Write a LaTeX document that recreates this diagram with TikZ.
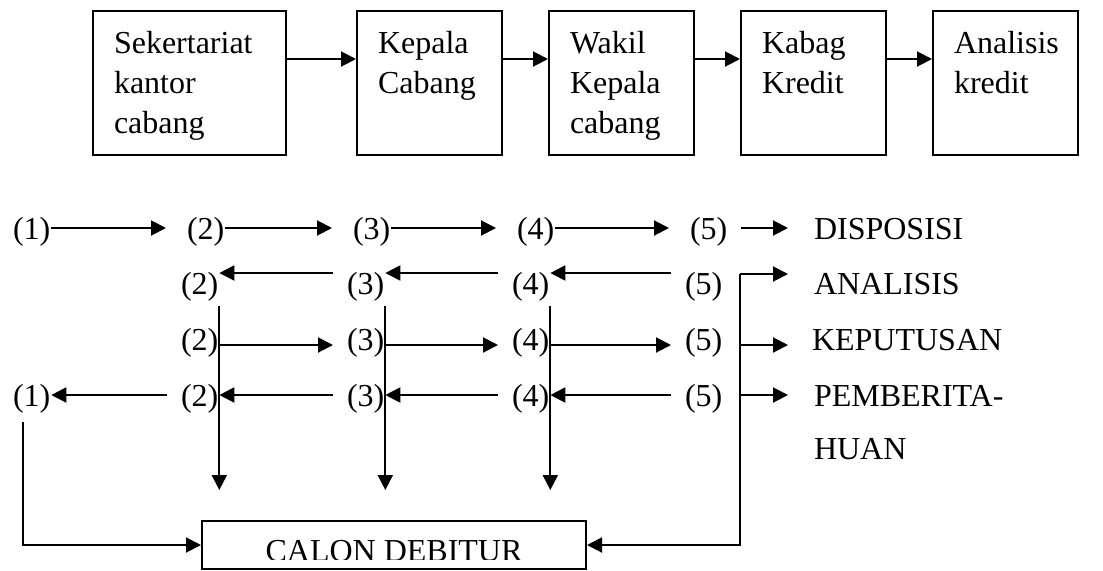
\documentclass[tikz,border=0pt]{standalone}
\usepackage{fontspec}
\setmainfont{Liberation Serif}
\usetikzlibrary{arrows.meta}
\newcommand{\bigtext}{\fontsize{16}{20}\selectfont}

\begin{document}
\begin{tikzpicture}[x=0.5pt, y=-0.5pt, line width=1pt,
    >={Triangle[length=7.5pt,width=7.5pt]},
    box/.style={draw, anchor=north west, inner xsep=10.5pt, inner ysep=0pt,
        text width=51.5pt, align=left, text height=21pt, text depth=51pt, font=\bigtext},
    num/.style={anchor=base west, inner sep=0pt, font=\bigtext},
    lbl/.style={anchor=base west, inner sep=0pt, font=\bigtext}]
    \useasboundingbox (0,0) rectangle (1103,570);
    % Boxes - alur surat
    \node[box, text width=75.5pt] (sekretariat) at (92,10) {Sekertariat\\kantor\\cabang};
    \node[box] (kepala) at (356,10) {Kepala\\Cabang};
    \node[box] (wakil) at (548,10) {Wakil\\Kepala\\cabang};
    \node[box] (kabag) at (740,10) {Kabag\\Kredit};
    \node[box] (analis) at (932,10) {Analisis\\kredit};
    \foreach \a/\b in {sekretariat/kepala, kepala/wakil, wakil/kabag, kabag/analis}
        \draw[->] ([yshift=12pt]\a.east) -- ([yshift=12pt]\b.west);
    % Numbers
    \foreach \i/\x in {1/12,2/186,3/352,4/516,5/689}
        \node[num] (p1\i) at (\x,239) {(\i)};
    \foreach \r/\y in {2/294,3/350,4/406}
        \foreach \i/\x in {2/180,3/346,4/511,5/684}
            \node[num] (p\r\i) at (\x,\y) {(\i)};
    \node[num] (p41) at (12,406) {(1)};
    % Labels on the right
    \node[lbl] (disposisi) at (813,239) {DISPOSISI};
    \node[lbl] (analisis) at (813,294) {ANALISIS};
    \node[lbl] (keputusan) at (811,350) {KEPUTUSAN};
    \node[lbl, text width=140pt, align=left] (pemberitahuan) at (813,406) {PEMBERITA-\\[6.5pt]HUAN};
    % Calon debitur
    \node[draw, minimum width=192pt, minimum height=24pt, inner sep=0pt] (calon) at (394,545) {};
    \begin{scope}
        \clip (calon.north west) rectangle ([yshift=5.5pt]calon.south east);
        \node[anchor=base, inner sep=0pt, font=\bigtext] (calontext) at (394,561) {CALON DEBITUR};
    \end{scope}
    % Row arrows
    \foreach \i in {1,...,4}{
        \pgfmathtruncatemacro\j{\i+1}
        \draw[->] ([yshift=5.5pt]p1\i.base east) -- ([xshift=-10pt,yshift=5.5pt]p1\j.base west);
    }
    \foreach \i in {2,3,4}{
        \pgfmathtruncatemacro\j{\i+1}
        \draw[->] ([xshift=-6.5pt,yshift=10.5pt]p2\j.base west) -- ([yshift=10.5pt]p2\i.base east);
        \draw[->] ([yshift=2.5pt]p3\i.base east) -- ([xshift=-6.5pt,yshift=2.5pt]p3\j.base west);
    }
    \foreach \i in {1,...,4}{
        \pgfmathtruncatemacro\j{\i+1}
        \draw[->] ([xshift=-6.5pt,yshift=5.5pt]p4\j.base west) -- ([yshift=5.5pt]p4\i.base east);
    }
    % Down to calon debitur
    \coordinate (low) at (0,490);
    \foreach \i in {2,3,4}
        \draw[->] ([yshift=-2pt]p2\i.south east) -- (p2\i.south east |- low);
    \draw[->] ([xshift=-4.5pt,yshift=-4pt]p41.south) |- (calon.west);
    % Bracket on the right
    \coordinate (brk) at (740,274);
    \draw[->] ([xshift=6.5pt,yshift=5.5pt]p15.base east) -- ([xshift=-12.5pt,yshift=5.5pt]disposisi.base west);
    \draw[->] (brk) -- ([xshift=-12.5pt]analisis.base west |- brk);
    \draw[->] ([yshift=2.5pt]brk |- keputusan.base) -- ([xshift=-11.5pt,yshift=2.5pt]keputusan.base west);
    \draw[->] ([yshift=5.5pt]brk |- pemberitahuan.base) -- ([xshift=-12.5pt,yshift=5.5pt]pemberitahuan.base west);
    \draw[->] (brk) |- (calon.east);
\end{tikzpicture}
\end{document}
